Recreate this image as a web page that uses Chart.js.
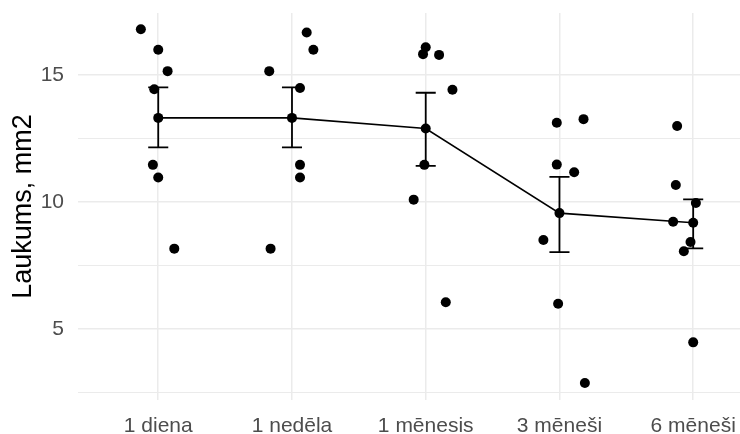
<!DOCTYPE html>
<html lang="lv">
<head>
    <meta charset="UTF-8">
    <title>Laukums</title>
    <script src="https://cdn.jsdelivr.net/npm/chart.js"></script>
    <style>
        body {
            margin: 0;
            background-color: #ffffff;
        }
        .chart-container {
            width: 740px;
            height: 434px;
        }
    </style>
</head>
<body>
    <div class="chart-container">
        <canvas id="areaChart" width="740" height="434"></canvas>
    </div>

    <script>
        // Categories (time points)
        const categories = ['1 diena', '1 nedēla', '1 mēnesis', '3 mēneši', '6 mēneši'];

        // Individual measurements per time point (mm2)
        const diena1   = [16.80, 15.99, 15.15, 14.44, 11.46, 10.96, 8.16];
        const nedela1  = [15.15, 16.67, 15.99, 14.49, 11.46, 10.96, 8.16];
        const menesis1 = [16.09, 15.82, 15.79, 14.42, 11.46, 10.09, 6.05];
        const menesi3  = [13.12, 13.26, 11.47, 11.17, 8.50, 5.99, 2.87];
        const menesi6  = [12.99, 10.67, 9.96, 9.22, 8.42, 8.06, 4.47];

        // Horizontal jitter of each point (category units)
        const jitter1 = [-0.13, 0.00, 0.07, -0.03, -0.04, 0.00, 0.12];
        const jitter2 = [-0.17, 0.11, 0.16, 0.06, 0.06, 0.06, -0.16];
        const jitter3 = [0.00, -0.02, 0.10, 0.20, -0.01, -0.09, 0.15];
        const jitter4 = [-0.02, 0.18, -0.02, 0.11, -0.12, -0.01, 0.19];
        const jitter5 = [-0.12, -0.13, 0.02, -0.15, -0.02, -0.07, 0.00];

        // Group means and error bar ends
        const means   = [13.31, 13.31, 12.89, 9.56, 9.18];
        const errLow  = [12.15, 12.15, 11.42, 8.02, 8.17];
        const errHigh = [14.51, 14.51, 14.30, 10.99, 10.10];

        // Axis ticks
        const yTicks = [2.5, 5, 7.5, 10, 12.5, 15];
        const yLabels = [5, 10, 15];

        const groups = [diena1, nedela1, menesis1, menesi3, menesi6];
        const jitters = [jitter1, jitter2, jitter3, jitter4, jitter5];

        const points = [];
        groups.forEach((vals, i) => {
            vals.forEach((v, j) => points.push({ x: i + 1 + jitters[i][j], y: v }));
        });

        const meanPoints = means.map((m, i) => ({ x: i + 1, y: m }));

        // error bars as one broken line: stem, top cap, bottom cap
        const capHalf = 0.075;
        const errorBars = [];
        means.forEach((m, i) => {
            const c = i + 1;
            errorBars.push({ x: c, y: errLow[i] }, { x: c, y: errHigh[i] }, { x: c, y: null });
            errorBars.push({ x: c - capHalf, y: errHigh[i] }, { x: c + capHalf, y: errHigh[i] }, { x: c, y: null });
            errorBars.push({ x: c - capHalf, y: errLow[i] }, { x: c + capHalf, y: errLow[i] }, { x: c, y: null });
        });

        const fontFamily = '"Liberation Sans", Arial, sans-serif';

        const ctx = document.getElementById('areaChart').getContext('2d');
        const areaChart = new Chart(ctx, {
            type: 'scatter',
            data: {
                datasets: [{
                    data: points,
                    backgroundColor: '#000000',
                    borderWidth: 0,
                    pointRadius: 5,
                    showLine: false
                }, {
                    data: meanPoints,
                    borderColor: '#000000',
                    backgroundColor: '#000000',
                    borderWidth: 1.6,
                    pointRadius: 5,
                    pointBorderWidth: 0,
                    showLine: true
                }, {
                    data: errorBars,
                    borderColor: '#000000',
                    borderWidth: 1.8,
                    pointRadius: 0,
                    showLine: true,
                    spanGaps: false
                }]
            },
            options: {
                responsive: false,
                animation: false,
                layout: { autoPadding: false, padding: { top: 13, left: 0, right: 0, bottom: 0 } },
                plugins: {
                    legend: { display: false },
                    tooltip: { enabled: false }
                },
                scales: {
                    x: {
                        type: 'linear',
                        min: 0.4,
                        max: 5.35,
                        afterBuildTicks: axis => { axis.ticks = categories.map((c, i) => ({ value: i + 1 })); },
                        afterFit: axis => {
                            axis.height = 34;
                            axis.paddingLeft = 0;
                            axis.paddingRight = 0;
                        },
                        border: { display: false },
                        grid: { color: '#ebebeb', lineWidth: 1.5, drawTicks: false },
                        ticks: {
                            padding: 14,
                            color: '#4d4d4d',
                            font: { family: fontFamily, size: 21 },
                            callback: value => categories[Math.round(value) - 1],
                            maxRotation: 0,
                            autoSkip: false
                        }
                    },
                    y: {
                        min: 2.2,
                        max: 17.44,
                        afterBuildTicks: axis => { axis.ticks = yTicks.map(v => ({ value: v })); },
                        afterFit: axis => {
                            axis.width = 78;
                            axis.paddingTop = 0;
                            axis.paddingBottom = 0;
                        },
                        border: { display: false },
                        grid: {
                            color: '#ebebeb',
                            lineWidth: c => (yLabels.includes(c.tick.value) ? 1.5 : 1.1),
                            drawTicks: false
                        },
                        ticks: {
                            padding: 14,
                            color: '#4d4d4d',
                            font: { family: fontFamily, size: 21 },
                            callback: value => (yLabels.includes(value) ? String(value) : '')
                        },
                        title: {
                            display: true,
                            text: 'Laukums, mm2',
                            color: '#000000',
                            font: { family: fontFamily, size: 27 },
                            padding: { top: 7, bottom: 0 }
                        }
                    }
                }
            }
        });
    </script>
</body>
</html>
